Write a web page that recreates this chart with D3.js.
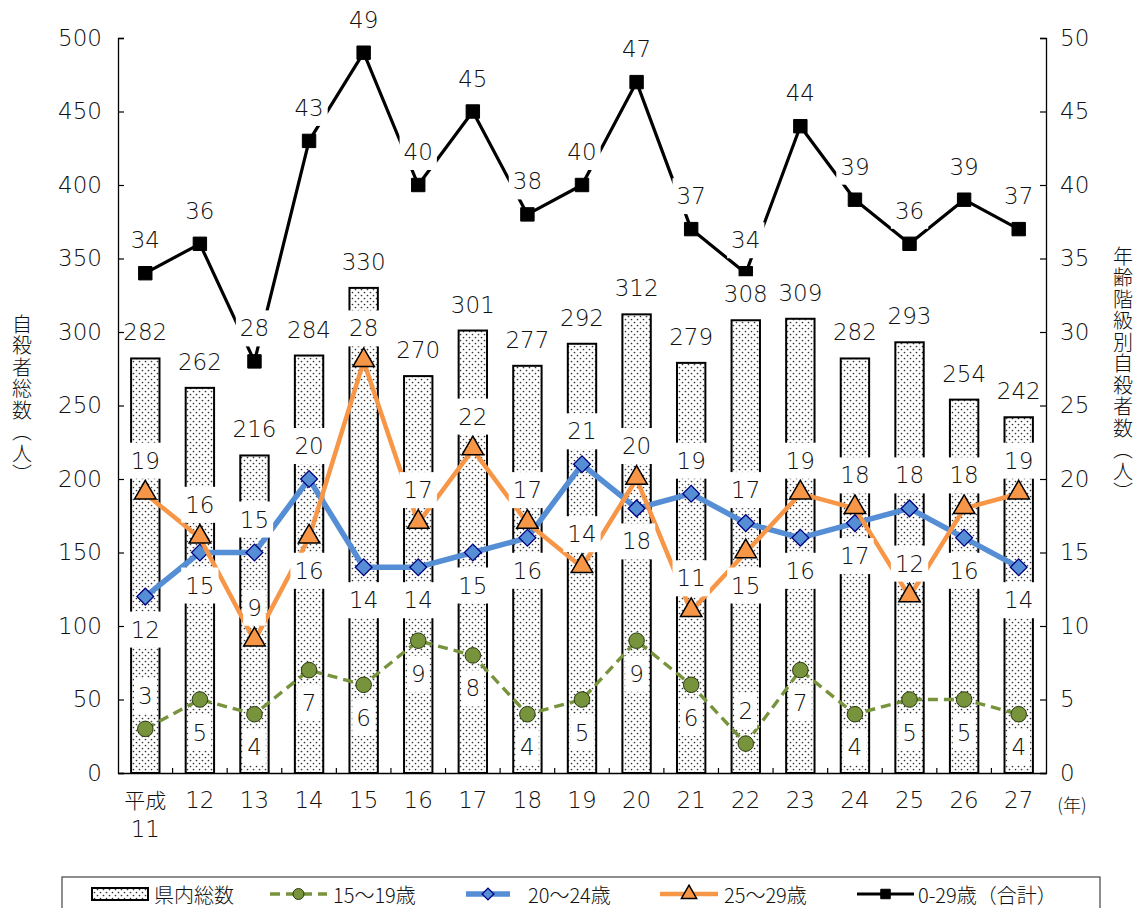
<!DOCTYPE html>
<html>
<head>
<meta charset="utf-8">
<script src="https://cdn.jsdelivr.net/npm/d3@7"></script>
<style>
  html, body { margin: 0; padding: 0; background: #fff; }
  svg { display: block; }
  text { font-family: "DejaVu Sans", "Noto Sans CJK JP", sans-serif; font-weight: 200; fill: #111; }
  text.jp { font-family: "Noto Sans CJK JP", "Noto Sans", sans-serif; font-weight: 300; }
</style>
</head>
<body>
<svg id="chart" width="1143" height="908"></svg>
<script>
// 年度（平成）
const years = ["11","12","13","14","15","16","17","18","19","20","21","22","23","24","25","26","27"];
// 県内総数（左軸）
const totalPref = [282,262,216,284,330,270,301,277,292,312,279,308,309,282,293,254,242];
// 年齢階級別（右軸）
const age15to19 = [3,5,4,7,6,9,8,4,5,9,6,2,7,4,5,5,4];
const age20to24 = [12,15,15,20,14,14,15,16,21,18,19,17,16,17,18,16,14];
const age25to29 = [19,16,9,16,28,17,22,17,14,20,11,15,19,18,12,18,19];
const age0to29  = [34,36,28,43,49,40,45,38,40,47,37,34,44,39,36,39,37];
// ラベルの表示側（a: 上, b: 下）
const side15to19 = ["a","b","b","b","b","b","b","b","b","b","b","a","b","b","b","b","b"];
const side20to24 = ["b","b","a","a","b","b","b","b","a","b","a","a","b","b","a","b","b"];
const side25to29 = ["a","a","a","b","a","a","a","a","a","a","a","b","a","a","a","a","a"];
// 軸目盛
const leftTicks = [0,50,100,150,200,250,300,350,400,450,500];
const rightTicks = [0,5,10,15,20,25,30,35,40,45,50];

const svg = d3.select("#chart");
const plot = { left: 118, right: 1046, top: 38, bottom: 773 };

const x = d3.scaleBand().domain(years).range([plot.left, plot.right]).padding(0);
const yL = d3.scaleLinear().domain([0, 500]).range([plot.bottom, plot.top]);
const yR = d3.scaleLinear().domain([0, 50]).range([plot.bottom, plot.top]);
const cx = d => x(d) + x.bandwidth() / 2;
const barW = x.bandwidth() * 0.52;
const numFont = 23;

// ドット柄
const defs = svg.append("defs");
const pat = defs.append("pattern").attr("id", "dots")
  .attr("patternUnits", "userSpaceOnUse").attr("width", 6).attr("height", 6);
pat.append("rect").attr("width", 6).attr("height", 6).attr("fill", "#fff");
pat.append("circle").attr("cx", 1.5).attr("cy", 1.5).attr("r", 0.85).attr("fill", "#333");
pat.append("circle").attr("cx", 4.5).attr("cy", 4.5).attr("r", 0.85).attr("fill", "#333");

// 棒（県内総数）
svg.append("g").selectAll("rect").data(years).join("rect")
  .attr("x", d => cx(d) - barW / 2)
  .attr("y", (d, i) => yL(totalPref[i]))
  .attr("width", barW)
  .attr("height", (d, i) => yL(0) - yL(totalPref[i]))
  .attr("fill", "url(#dots)")
  .attr("stroke", "#000").attr("stroke-width", 2);

// 年ラベル
const xl = svg.append("g").attr("font-size", numFont);
years.forEach((d, i) => {
  if (i === 0) {
    xl.append("text").attr("class", "jp").attr("x", cx(d)).attr("y", 808)
      .attr("text-anchor", "middle").attr("font-size", 21).text("平成");
    xl.append("text").attr("x", cx(d)).attr("y", 837).attr("text-anchor", "middle").text(d);
  } else {
    xl.append("text").attr("x", cx(d)).attr("y", 808).attr("text-anchor", "middle").text(d);
  }
});
svg.append("text").attr("class", "jp").attr("x", 1072).attr("y", 812).attr("text-anchor", "middle")
  .attr("font-size", 18).text("(年)");

// 軸タイトル（縦書き）
svg.append("text").attr("class", "jp").attr("x", 22).attr("y", 314)
  .style("writing-mode", "vertical-rl").style("text-orientation", "upright")
  .attr("font-size", 20).attr("letter-spacing", 1.5).text("自殺者総数（人）");
svg.append("text").attr("class", "jp").attr("x", 1123).attr("y", 246)
  .style("writing-mode", "vertical-rl").style("text-orientation", "upright")
  .attr("font-size", 20).attr("letter-spacing", 1.5).text("年齢階級別自殺者数（人）");

// 折れ線
const lineR = d3.line().x((d, i) => cx(years[i])).y(d => yR(d));
const series = [
  { vals: age15to19, color: "#77933C", width: 3.4, dash: "10,6", marker: "circle" },
  { vals: age20to24, color: "#558ED5", width: 5.5, dash: null, marker: "diamond" },
  { vals: age25to29, color: "#F79646", width: 4.5, dash: null, marker: "triangle" },
  { vals: age0to29,  color: "#000000", width: 3.2, dash: null, marker: "square" }
];
const markerStyle = {
  circle:   { sym: d3.symbolCircle,   size: 190, rot: 0,  fill: "#77933C", stroke: "#2b3a12", sw: 1 },
  diamond:  { sym: d3.symbolSquare,   size: 140, rot: 45, fill: "#558ED5", stroke: "#000080", sw: 1.3 },
  triangle: { sym: d3.symbolTriangle, size: 200, rot: 0,  fill: "#F79646", stroke: "#000", sw: 1.5 },
  square:   { sym: d3.symbolSquare,   size: 180, rot: 0,  fill: "#000", stroke: "#000", sw: 1 }
};
series.forEach(s => {
  svg.append("path").datum(s.vals).attr("d", lineR)
    .attr("fill", "none").attr("stroke", s.color).attr("stroke-width", s.width)
    .attr("stroke-dasharray", s.dash).attr("stroke-linejoin", "round");
  const m = markerStyle[s.marker];
  svg.append("g").selectAll("path").data(s.vals).join("path")
    .attr("transform", (d, i) => {
      const dy = s.marker === "triangle" ? -1 : 0;
      return `translate(${cx(years[i])},${yR(d) + dy}) rotate(${m.rot})`;
    })
    .attr("d", d3.symbol().type(m.sym).size(m.size))
    .attr("fill", m.fill).attr("stroke", m.stroke).attr("stroke-width", m.sw);
});

// データラベル（白地ボックス付き）
const labelLayer = svg.append("g");
function label(xp, yp, txt) {
  const g = labelLayer.append("g");
  const r = g.append("rect").attr("fill", "#fff");
  const t = g.append("text").attr("x", xp).attr("y", yp)
    .attr("text-anchor", "middle").attr("dominant-baseline", "central")
    .attr("font-size", numFont).text(txt);
  const b = t.node().getBBox();
  r.attr("x", b.x - 4).attr("y", yp - 18).attr("width", b.width + 8).attr("height", 36);
}
totalPref.forEach((v, i) => label(cx(years[i]), yL(v) - 26, v));
function seriesLabels(vals, sides) {
  vals.forEach((v, i) => {
    const off = sides[i] === "a" ? -33 : 33;
    label(cx(years[i]), yR(v) + off, v);
  });
}
seriesLabels(age15to19, side15to19);
seriesLabels(age20to24, side20to24);
seriesLabels(age25to29, side25to29);
seriesLabels(age0to29, age0to29.map(() => "a"));

// 軸（ラベルの上に描画）
const axL = svg.append("g").attr("transform", `translate(${plot.left},0)`)
  .call(d3.axisLeft(yL).tickValues(leftTicks).tickSize(-6).tickFormat(d3.format("d")));
const axR = svg.append("g").attr("transform", `translate(${plot.right},0)`)
  .call(d3.axisRight(yR).tickValues(rightTicks).tickSize(-6).tickFormat(d3.format("d")));
const axB = svg.append("g").attr("transform", `translate(0,${plot.bottom})`)
  .call(d3.axisBottom(x).tickValues([]).tickSizeOuter(0));
[axL, axR].forEach(a => {
  a.select(".domain").attr("stroke", "#000").attr("stroke-width", 1.3);
  a.selectAll(".tick line").attr("stroke", "#000").attr("stroke-width", 1.2);
  a.selectAll(".tick text").attr("font-size", numFont).attr("fill", "#111")
    .attr("font-family", null);
});
axL.selectAll(".tick text").attr("x", -16);
axR.selectAll(".tick text").attr("x", 14);
axB.select(".domain").attr("stroke", "#000").attr("stroke-width", 1.3);
// カテゴリ区切りの目盛
svg.append("g").selectAll("line").data(years.slice(1)).join("line")
  .attr("x1", d => x(d)).attr("x2", d => x(d))
  .attr("y1", plot.bottom).attr("y2", plot.bottom - 5)
  .attr("stroke", "#000").attr("stroke-width", 1.2);

// 凡例
const lg = svg.append("g");
lg.append("rect").attr("x", 62).attr("y", 877).attr("width", 1038).attr("height", 40)
  .attr("fill", "#fff").attr("stroke", "#444").attr("stroke-width", 1.2);
const ly = 894;
lg.append("rect").attr("x", 92).attr("y", ly - 6).attr("width", 56).attr("height", 12)
  .attr("fill", "url(#dots)").attr("stroke", "#000").attr("stroke-width", 2);
const legendItems = [
  { x1: 270, x2: 327, text: "15〜19歳", tx: 333, s: series[0] },
  { x1: 466, x2: 510, text: "20〜24歳", tx: 528, s: series[1] },
  { x1: 660, x2: 718, text: "25〜29歳", tx: 724, s: series[2] },
  { x1: 857, x2: 914, text: "0-29歳（合計）", tx: 918, s: series[3] }
];
lg.append("text").attr("class", "jp").attr("x", 154).attr("y", ly).attr("dominant-baseline", "central")
  .attr("font-size", 20).text("県内総数");
legendItems.forEach(it => {
  lg.append("line").attr("x1", it.x1).attr("x2", it.x2).attr("y1", ly).attr("y2", ly)
    .attr("stroke", it.s.color).attr("stroke-width", it.s.width).attr("stroke-dasharray", it.s.dash);
  const m = markerStyle[it.s.marker];
  lg.append("path").attr("transform", `translate(${(it.x1 + it.x2) / 2},${ly}) rotate(${m.rot})`)
    .attr("d", d3.symbol().type(m.sym).size(m.size * 0.5))
    .attr("fill", m.fill).attr("stroke", m.stroke).attr("stroke-width", m.sw);
  lg.append("text").attr("class", "jp").attr("x", it.tx).attr("y", ly).attr("dominant-baseline", "central")
    .attr("font-size", 20).text(it.text);
});
</script>
</body>
</html>
